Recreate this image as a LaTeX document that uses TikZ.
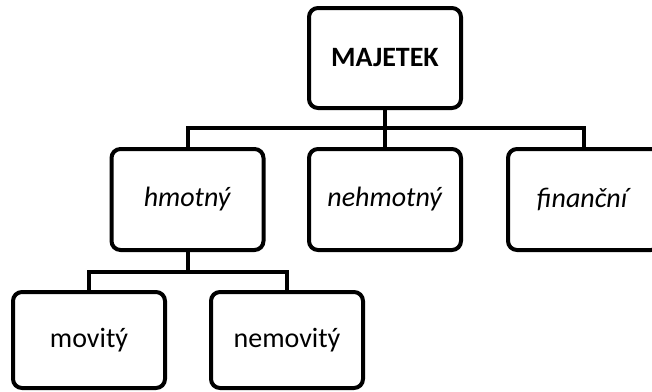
\documentclass[tikz,border=0pt]{standalone}
\usepackage{fontspec}
\setmainfont{Carlito}
\usepackage{tikz}

\tikzset{
    box/.style={draw, line width=4pt, rounded corners=9pt,
        minimum width=152pt, minimum height=101pt, inner sep=0pt,
        font=\fontsize{28}{34}\selectfont},
    lowbox/.style={box, minimum height=96pt},
    link/.style={line width=4pt}
}

\begin{document}
\begin{tikzpicture}[x=1pt, y=-1pt]
    \useasboundingbox (0,0) rectangle (652,391);
    \clip (0,0) rectangle (652,391);
    % Uzly
    \node[box, minimum height=100pt] (majetek) at (385,58) {\textbf{MAJETEK}};
    \node[box] (hmotny) at (187.5,199.5) {\textit{hmotný}};
    \node[box] (nehmotny) at (385,199.5) {\textit{nehmotný}};
    \node[box] (financni) at (584,199.5) {\textit{finanční}};
    \node[lowbox] (movity) at (89,340) {movitý};
    \node[lowbox] (nemovity) at (287,340) {nemovitý};
    % Rozvětvení
    \coordinate (horni) at (385,128);
    \coordinate (dolni) at (187.5,272);
    % Spojnice
    \draw[link] (majetek.south) -- (horni) -- (nehmotny.north);
    \draw[link] (hmotny.north) |- (horni) -| (financni.north);
    \draw[link] (hmotny.south) -- (dolni);
    \draw[link] (movity.north) |- (dolni) -| (nemovity.north);
\end{tikzpicture}
\end{document}
